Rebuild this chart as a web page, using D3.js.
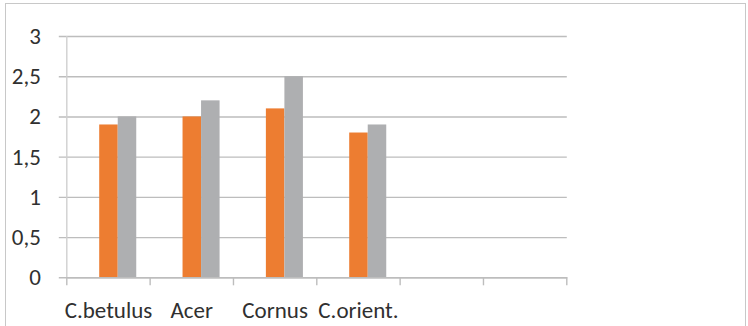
<!DOCTYPE html>
<html>
<head>
<meta charset="utf-8">
<script src="https://cdn.jsdelivr.net/npm/d3@7"></script>
<style>
	html, body { margin: 0; padding: 0; background: #fff; }
	svg text { font-family: Carlito, Calibri, Lato, sans-serif; fill: #303030; }
</style>
</head>
<body>
<div id="chart"></div>
<script>
const categories = ['C.betulus', 'Acer', 'Cornus', 'C.orient.']
const slots      = 6
const series     = ['blank', 'orange', 'gray']
const orangeVals = [1.9, 2.0, 2.1, 1.8]
const grayVals   = [2.0, 2.2, 2.5, 1.9]
const yTicks     = [0, 0.5, 1, 1.5, 2, 2.5, 3]

const colors = { orange: '#ED7D31', gray: '#AEAFB1' }

const w = 748, h = 326

const svg = d3.select('#chart').append('svg')
	.attr('width', w)
	.attr('height', h)

// chart frame
svg.append('rect')
	.attr('x', 5.5).attr('y', 3.5)
	.attr('width', 740).attr('height', 340)
	.attr('fill', 'none')
	.attr('stroke', '#C8C8C8')
	.attr('stroke-width', 1)

const x = d3.scaleBand()
	.domain(d3.range(slots))
	.range([66.8, 566.8])

const x1 = d3.scaleBand()
	.domain(series)
	.range([0, x.bandwidth()])
	.paddingOuter(0.75)

const y = d3.scaleLinear()
	.domain([0, 3])
	.range([277.3, 36])

// gridlines + y ticks
const yAxis = svg.append('g')
	.attr('transform', `translate(${x.range()[0]},0)`)
	.call(d3.axisLeft(y)
		.tickValues(yTicks)
		.tickSize(-(x.range()[1] - x.range()[0]))
		.tickPadding(26)
		.tickFormat(d => String(d).replace('.', ',')))

yAxis.select('.domain').remove()
yAxis.selectAll('.tick line')
	.attr('x1', -8)
	.attr('stroke', '#BDBDBD')
	.attr('stroke-width', 1.4)
yAxis.selectAll('.tick text')
	.attr('font-size', 23)

// left axis line
svg.append('line')
	.attr('x1', x.range()[0]).attr('x2', x.range()[0])
	.attr('y1', y(3)).attr('y2', y(0))
	.attr('stroke', '#D0D0D0')
	.attr('stroke-width', 1.4)

// bars
const rows = categories.map((c, i) => ({ idx: i, orange: orangeVals[i], gray: grayVals[i] }))

svg.append('g')
	.selectAll('g')
	.data(rows)
	.join('g')
	.attr('transform', d => `translate(${x(d.idx)},0)`)
	.selectAll('rect')
	.data(d => ['orange', 'gray'].map(k => ({ key: k, value: d[k] })))
	.join('rect')
	.attr('x', d => x1(d.key))
	.attr('width', x1.bandwidth())
	.attr('y', d => y(d.value))
	.attr('height', d => y(0) - y(d.value))
	.attr('fill', d => colors[d.key])

// category axis
const xAxis = svg.append('g')
	.attr('transform', `translate(0,${y(0)})`)
	.call(d3.axisBottom(x).tickSize(0).tickFormat(i => categories[i] || ''))

xAxis.select('.domain')
	.attr('stroke', '#BDBDBD')
	.attr('stroke-width', 1.4)
xAxis.selectAll('.tick text')
	.attr('font-size', 23)
	.attr('dy', 0)
	.attr('y', 41)

// boundary tick marks
svg.append('g')
	.selectAll('line')
	.data(d3.range(slots + 1))
	.join('line')
	.attr('x1', i => i < slots ? x(i) : x.range()[1])
	.attr('x2', i => i < slots ? x(i) : x.range()[1])
	.attr('y1', y(0))
	.attr('y2', y(0) + 8)
	.attr('stroke', '#BDBDBD')
	.attr('stroke-width', 1.4)
</script>
</body>
</html>
